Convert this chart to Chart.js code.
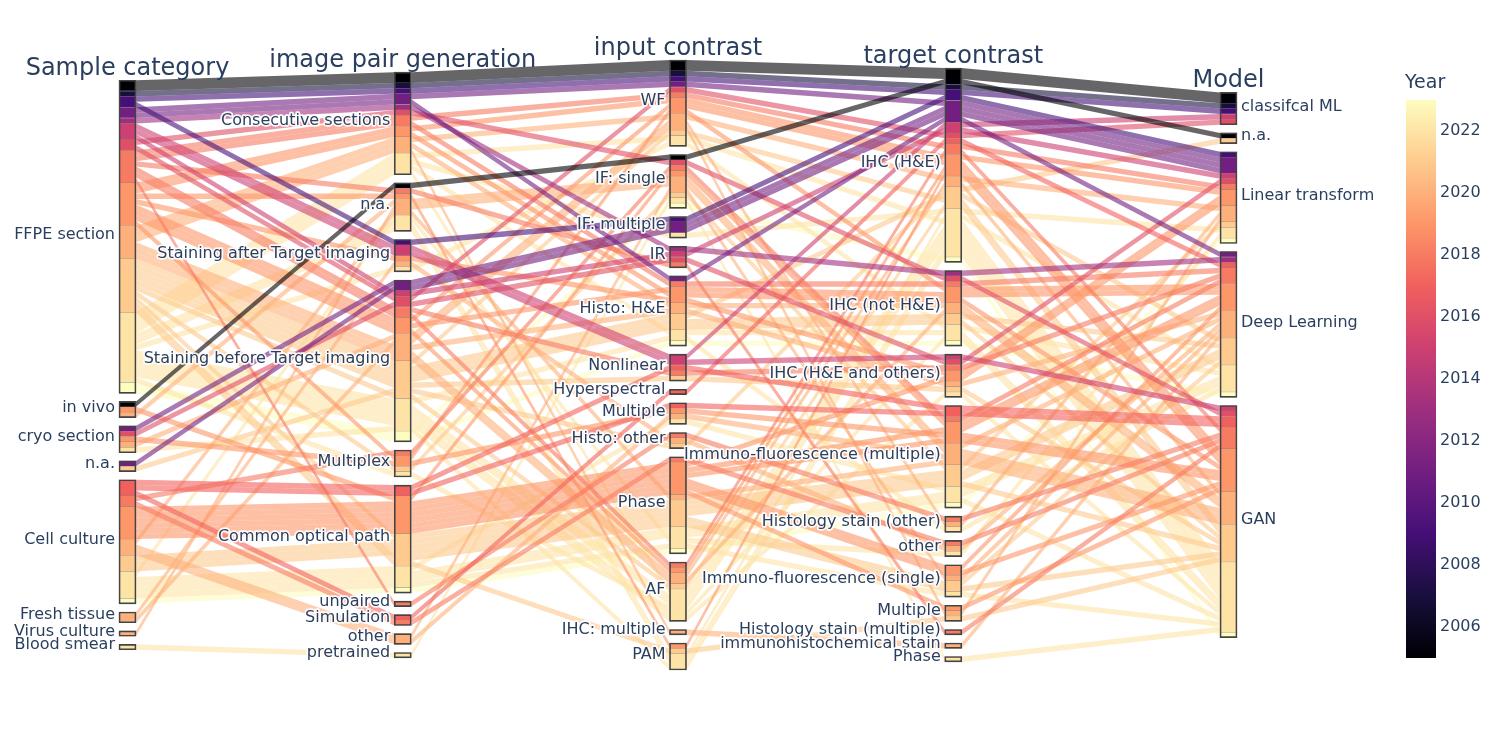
<!DOCTYPE html>
<html>
<head>
<meta charset="utf-8">
<script src="https://cdn.jsdelivr.net/npm/chart.js@4.4.1/dist/chart.umd.min.js"></script>
<style>
  html, body { margin: 0; padding: 0; background: #fff; }
  #chart { display: block; }
</style>
</head>
<body>
<canvas id="chart" width="1500" height="750"></canvas>
<script>
// Dimension titles and their categories (top to bottom)
const dimensionNames = ['Sample category', 'image pair generation', 'input contrast', 'target contrast', 'Model'];

const sampleCategories = ['FFPE section', 'in vivo', 'cryo section', 'n.a.', 'Cell culture', 'Fresh tissue', 'Virus culture', 'Blood smear'];
const pairCategories = ['Consecutive sections', 'n.a.', 'Staining after Target imaging', 'Staining before Target imaging',
    'Multiplex', 'Common optical path', 'unpaired', 'Simulation', 'other', 'pretrained'];
const inputCategories = ['WF', 'IF: single', 'IF: multiple', 'IR', 'Histo: H&E', 'Nonlinear', 'Hyperspectral', 'Multiple',
    'Histo: other', 'Phase', 'AF', 'IHC: multiple', 'PAM'];
const targetCategories = ['IHC (H&E)', 'IHC (not H&E)', 'IHC (H&E and others)', 'Immuno-fluorescence (multiple)',
    'Histology stain (other)', 'other', 'Immuno-fluorescence (single)', 'Multiple', 'Histology stain (multiple)',
    'immunohistochemical stain', 'Phase'];
const modelCategories = ['classifcal ML', 'n.a.', 'Linear transform', 'Deep Learning', 'GAN'];

// One entry per paper: index into the category lists above
const sample = [
    0, 0, 1, 0, 0, 0, 2, 3, 0, 0,
    0, 0, 0, 0, 2, 0, 0, 4, 4, 4,
    0, 0, 0, 0, 0, 0, 4, 4, 0, 0,
    0, 0, 0, 0, 0, 0, 1, 2, 4, 4,
    4, 4, 4, 4, 0, 0, 0, 0, 0, 0,
    1, 2, 4, 4, 4, 5, 5, 6, 0, 0,
    0, 0, 0, 0, 3, 0, 0, 0, 0, 4,
    4, 4, 0, 0, 0, 0, 0, 0, 0, 0,
    0, 0, 0, 0, 0, 2, 4, 4, 4, 4,
    4, 7, 0, 0, 4
];
const pairing = [
    0, 0, 1, 0, 0, 2, 3, 3, 0, 0,
    0, 2, 2, 3, 3, 3, 0, 5, 5, 7,
    0, 0, 3, 3, 1, 6, 4, 7, 0, 0,
    3, 3, 3, 2, 4, 1, 5, 4, 5, 5,
    5, 5, 5, 5, 0, 0, 0, 3, 3, 3,
    1, 3, 1, 8, 8, 3, 2, 1, 3, 3,
    3, 3, 3, 3, 3, 4, 5, 5, 5, 5,
    5, 5, 0, 0, 0, 0, 1, 1, 2, 3,
    3, 3, 3, 3, 4, 3, 5, 5, 5, 5,
    1, 9, 3, 3, 5
];
const input = [
    0, 0, 1, 0, 0, 2, 2, 2, 0, 4,
    3, 5, 5, 3, 3, 0, 1, 7, 5, 6,
    0, 4, 10, 5, 3, 8, 1, 9, 0, 4,
    0, 4, 10, 4, 0, 12, 1, 7, 9, 9,
    9, 9, 9, 9, 0, 4, 11, 10, 10, 4,
    1, 0, 9, 1, 7, 0, 8, 1, 0, 4,
    4, 4, 5, 10, 8, 1, 12, 9, 9, 9,
    9, 9, 0, 4, 10, 2, 12, 12, 0, 10,
    10, 10, 10, 4, 10, 12, 9, 9, 9, 7,
    9, 1, 4, 1, 9
];
const target = [
    0, 0, 0, 0, 0, 0, 0, 0, 0, 0,
    1, 2, 0, 0, 2, 0, 1, 3, 3, 0,
    0, 1, 0, 2, 8, 4, 3, 5, 0, 1,
    0, 1, 0, 2, 1, 0, 3, 3, 3, 3,
    6, 6, 7, 2, 0, 1, 9, 0, 1, 2,
    3, 4, 3, 6, 3, 7, 5, 3, 0, 1,
    0, 1, 2, 0, 0, 3, 7, 3, 6, 3,
    3, 6, 0, 1, 0, 0, 0, 0, 1, 0,
    0, 1, 2, 4, 0, 0, 3, 3, 6, 3,
    5, 10, 1, 0, 3
];
const model = [
    0, 0, 1, 0, 0, 2, 2, 2, 2, 3,
    3, 4, 0, 2, 2, 0, 4, 4, 4, 3,
    2, 3, 4, 3, 4, 4, 3, 4, 2, 4,
    4, 3, 4, 2, 3, 4, 3, 4, 4, 3,
    4, 3, 4, 2, 2, 4, 3, 4, 4, 3,
    3, 2, 4, 3, 4, 2, 3, 4, 4, 4,
    3, 3, 4, 4, 1, 2, 4, 3, 4, 3,
    4, 3, 4, 4, 4, 2, 4, 3, 3, 4,
    4, 4, 4, 3, 4, 4, 4, 3, 4, 3,
    2, 4, 3, 4, 2
];
const year = [
    2005, 2005, 2005, 2007, 2009, 2009, 2011, 2011, 2011, 2011,
    2013, 2015, 2015, 2015, 2016, 2016, 2016, 2017, 2017, 2017,
    2018, 2018, 2018, 2018, 2018, 2018, 2018, 2018, 2019, 2019,
    2019, 2019, 2019, 2019, 2019, 2019, 2019, 2019, 2019, 2019,
    2019, 2019, 2019, 2019, 2020, 2020, 2020, 2020, 2020, 2020,
    2020, 2020, 2020, 2020, 2020, 2020, 2020, 2020, 2021, 2021,
    2021, 2021, 2021, 2021, 2021, 2021, 2021, 2021, 2021, 2021,
    2021, 2021, 2022, 2022, 2022, 2022, 2022, 2022, 2022, 2022,
    2022, 2022, 2022, 2022, 2022, 2022, 2022, 2022, 2022, 2022,
    2022, 2022, 2023, 2023, 2023
];

// Colour bar
const yearMin = 2005;
const yearMax = 2023;
const colorbarTicks = [2006, 2008, 2010, 2012, 2014, 2016, 2018, 2020, 2022];
const magma = ['#000004', '#180f3d', '#440f76', '#721f81', '#9e2f7f', '#cd4071', '#f1605d', '#fd9668', '#feca8d', '#fcfdbf'];

const BAR_WIDTH = 17;
const GAP = 1.5;          // space between categories, in papers
const FONT = "'DejaVu Sans', 'Open Sans', sans-serif";
const TEXT_COLOR = '#2a3f5f';

function hexToRgb(h) {
    return [parseInt(h.slice(1, 3), 16), parseInt(h.slice(3, 5), 16), parseInt(h.slice(5, 7), 16)];
}

function yearColor(yr, alpha) {
    const t = (yr - yearMin) / (yearMax - yearMin) * (magma.length - 1);
    const i = Math.max(0, Math.min(Math.floor(t), magma.length - 2));
    const f = Math.min(1, Math.max(0, t - i));
    const a = hexToRgb(magma[i]), b = hexToRgb(magma[i + 1]);
    const c = a.map((v, k) => Math.round(v + (b[k] - v) * f));
    return alpha === undefined ? `rgb(${c.join(',')})` : `rgba(${c.join(',')},${alpha})`;
}

// ---- Layout in "paper" units (one unit per paper) ----
const dims = [sample, pairing, input, target, model];
const dimCats = [sampleCategories, pairCategories, inputCategories, targetCategories, modelCategories];
const N = year.length;
const span = N + (Math.max(...dimCats.map(c => c.length)) - 1) * GAP;

const catTop = [];
const catCount = [];
const recTop = [];
const bandData = [];
const bandColors = [];
const outlineData = [];

dims.forEach((dim, d) => {
    const k = dimCats[d].length;
    const counts = new Array(k).fill(0);
    dim.forEach(c => counts[c]++);
    let pos = (span - (N + (k - 1) * GAP)) / 2;
    const tops = counts.map(n => { const t = pos; pos += n + GAP; return t; });
    catTop.push(tops);
    catCount.push(counts);
    tops.forEach((t, c) => outlineData.push({ x: d, y: [t, t + counts[c]] }));

    // order inside a category: by colour first, then by the other dimensions
    const others = [];
    for (let e = d + 1; e < dims.length; e++) others.push(e);
    for (let e = d - 1; e >= 0; e--) others.push(e);
    const order = [...Array(N).keys()].sort((a, b) => {
        if (dim[a] !== dim[b]) return dim[a] - dim[b];
        if (year[a] !== year[b]) return year[a] - year[b];
        for (const e of others) {
            if (dims[e][a] !== dims[e][b]) return dims[e][a] - dims[e][b];
        }
        return a - b;
    });

    const fill = tops.slice();
    const pos2 = new Array(N);
    order.forEach(r => { pos2[r] = fill[dim[r]]; fill[dim[r]] += 1; });
    recTop.push(pos2);

    // colour bands inside each category
    let start = 0;
    for (let i = 1; i <= order.length; i++) {
        const a = order[start], b = order[i];
        if (i === order.length || dim[a] !== dim[b] || year[a] !== year[b]) {
            bandData.push({ x: d, y: [pos2[a], pos2[a] + (i - start)] });
            bandColors.push(yearColor(year[a]));
            start = i;
        }
    }
});

// identical papers share one ribbon
const pathMap = new Map();
for (let r = 0; r < N; r++) {
    const key = dims.map(dim => dim[r]).join('-') + '-' + year[r];
    if (!pathMap.has(key)) pathMap.set(key, { year: year[r], count: 0, top: dims.map(() => Infinity) });
    const p = pathMap.get(key);
    p.count++;
    dims.forEach((dim, d) => { p.top[d] = Math.min(p.top[d], recTop[d][r]); });
}
const paths = [...pathMap.values()].sort((a, b) => b.year - a.year);

// ---- Plugins ----
const ribbonPlugin = {
    id: 'ribbons',
    beforeDatasetsDraw(chart) {
        const { ctx, scales: { x, y } } = chart;
        const half = BAR_WIDTH / 2;
        ctx.save();
        paths.forEach(p => {
            ctx.fillStyle = yearColor(p.year, 0.6);
            for (let d = 0; d < dims.length - 1; d++) {
                const x0 = x.getPixelForValue(d) + half;
                const x1 = x.getPixelForValue(d + 1) - half;
                ctx.beginPath();
                ctx.moveTo(x0, y.getPixelForValue(p.top[d]));
                ctx.lineTo(x1, y.getPixelForValue(p.top[d + 1]));
                ctx.lineTo(x1, y.getPixelForValue(p.top[d + 1] + p.count));
                ctx.lineTo(x0, y.getPixelForValue(p.top[d] + p.count));
                ctx.closePath();
                ctx.fill();
            }
        });
        ctx.restore();
    }
};

function haloText(ctx, text, px, py) {
    ctx.strokeText(text, px, py);
    ctx.fillText(text, px, py);
}

const labelPlugin = {
    id: 'labels',
    afterDatasetsDraw(chart) {
        const { ctx, scales: { x, y } } = chart;
        const half = BAR_WIDTH / 2;
        ctx.save();
        ctx.lineJoin = 'round';
        ctx.strokeStyle = 'rgba(255,255,255,0.9)';
        ctx.fillStyle = TEXT_COLOR;
        ctx.textBaseline = 'alphabetic';

        // dimension titles
        ctx.font = `24px ${FONT}`;
        ctx.textAlign = 'center';
        dimensionNames.forEach((name, d) => {
            ctx.fillText(name, x.getPixelForValue(d), y.getPixelForValue(catTop[d][0]) - 5);
        });

        // category labels
        ctx.font = `16px ${FONT}`;
        ctx.lineWidth = 3.5;
        dimCats.forEach((cats, d) => {
            const last = d === dims.length - 1;
            ctx.textAlign = last ? 'left' : 'right';
            const lx = x.getPixelForValue(d) + (last ? half + 4 : -half - 4);
            cats.forEach((name, c) => {
                const cy = y.getPixelForValue(catTop[d][c] + catCount[d][c] / 2);
                haloText(ctx, name, lx, cy + 2);
            });
        });

        // colour bar
        const cbLeft = 1406, cbWidth = 30, cbTop = 100, cbBottom = 658;
        const grad = ctx.createLinearGradient(0, cbBottom, 0, cbTop);
        magma.forEach((col, i) => grad.addColorStop(i / (magma.length - 1), col));
        ctx.fillStyle = grad;
        ctx.fillRect(cbLeft, cbTop, cbWidth, cbBottom - cbTop);

        ctx.fillStyle = TEXT_COLOR;
        ctx.textAlign = 'left';
        ctx.font = `19px ${FONT}`;
        ctx.fillText('Year', cbLeft - 1, 88);
        ctx.font = `16px ${FONT}`;
        ctx.textBaseline = 'middle';
        colorbarTicks.forEach(t => {
            const ty = cbBottom - (t - yearMin) / (yearMax - yearMin) * (cbBottom - cbTop);
            ctx.fillText(String(t), cbLeft + cbWidth + 4, ty);
        });
        ctx.restore();
    }
};

new Chart(document.getElementById('chart'), {
    type: 'bar',
    data: {
        datasets: [
            {
                label: 'categories',
                data: outlineData,
                backgroundColor: 'rgba(0,0,0,0)',
                borderColor: '#444',
                borderWidth: 1,
                borderSkipped: false,
                barThickness: BAR_WIDTH,
                grouped: false,
                clip: false,
                order: 0
            },
            {
                label: 'bands',
                data: bandData,
                backgroundColor: bandColors,
                borderColor: 'rgba(68,68,68,0.45)',
                borderWidth: 0.5,
                borderSkipped: false,
                barThickness: BAR_WIDTH,
                grouped: false,
                clip: false,
                order: 1
            }
        ]
    },
    options: {
        responsive: false,
        animation: false,
        events: [],
        layout: { padding: { left: 127.5, right: 271.5, top: 60, bottom: 80 } },
        scales: {
            x: { type: 'linear', min: 0, max: dims.length - 1, offset: false, display: false },
            y: { type: 'linear', min: 0, max: span, reverse: true, display: false }
        },
        plugins: {
            legend: { display: false },
            tooltip: { enabled: false }
        }
    },
    plugins: [ribbonPlugin, labelPlugin]
});
</script>
</body>
</html>
